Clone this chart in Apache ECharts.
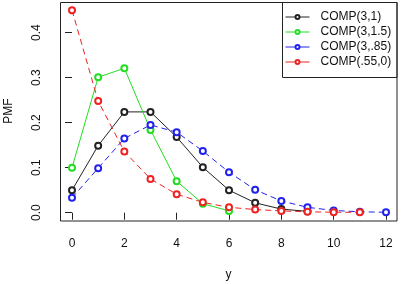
<!DOCTYPE html>
<html><head><meta charset="utf-8">
<script src="https://cdn.jsdelivr.net/npm/echarts@6/dist/echarts.min.js"></script>
<style>html,body{margin:0;padding:0;background:#fff}#c{width:401px;height:284px}</style>
</head><body><div id="c"></div>
<script>
var xTicks = [0, 2, 4, 6, 8, 10, 12];
var yTicks = [0.0, 0.1, 0.2, 0.3, 0.4];
var names = ['COMP(3,1)', 'COMP(3,1.5)', 'COMP(3,.85)', 'COMP(.55,0)'];
var comp3_1   = [0.050, 0.149, 0.224, 0.224, 0.168, 0.101, 0.050, 0.022, 0.008, 0.003];
var comp3_15  = [0.100, 0.301, 0.321, 0.184, 0.070, 0.020, 0.004];
var comp3_085 = [0.033, 0.099, 0.165, 0.195, 0.179, 0.137, 0.090, 0.051, 0.026, 0.012, 0.005, 0.002, 0.001];
var comp055_0 = [0.450, 0.248, 0.136, 0.075, 0.041, 0.023, 0.012, 0.007, 0.004, 0.002, 0.001, 0.001];
var colors = ['#222222', '#22dd22', '#2222ee', '#ee2222'];
var dashes = ['solid', 'solid', [6, 4], [6, 4]];
var allData = [comp3_1, comp3_15, comp3_085, comp055_0];

function toPairs(arr){ return arr.map(function(v,i){ return [i, v]; }); }

var chart = echarts.init(document.getElementById('c'), null, {renderer:'canvas'});
var series = allData.map(function(d, k){
  return {
    name: names[k], type: 'line', data: toPairs(d), clip: false,
    symbol: 'emptyCircle', symbolSize: 6,
    itemStyle: {color: colors[k], borderColor: colors[k], borderWidth: 1},
    lineStyle: {color: colors[k], width: 1, type: dashes[k]},
    emphasis: {disabled: true}, animation: false
  };
});
chart.setOption({
  animation: false,
  backgroundColor: '#fff',
  textStyle: {fontFamily: 'Liberation Sans, Arial, sans-serif'},
  grid: {left: 72, right: 15, top: 32.7, bottom: 71.3},
  xAxis: {
    type: 'value', min: 0, max: 12, interval: 2, offset: 8.3,
    axisLine: {show: false},
    axisTick: {show: true, length: 7, lineStyle: {color: '#222'}},
    axisLabel: {color: '#111', fontSize: 12, margin: 17, formatter: function(v){ return xTicks.indexOf(v) >= 0 ? String(v) : ''; }},
    splitLine: {show: false}
  },
  yAxis: {
    type: 'value', min: 0, max: 0.4, interval: 0.1, offset: 12,
    axisLine: {show: false},
    axisTick: {show: true, length: 7, lineStyle: {color: '#222'}},
    axisLabel: {color: '#111', fontSize: 12, margin: 17, rotate: 90,
      formatter: function(v){ return v.toFixed(1); }},
    splitLine: {show: false}
  },
  legend: {
    data: names, orient: 'vertical', left: 285, top: 11, padding: 0,
    itemWidth: 24, itemHeight: 5, itemGap: 3,
    itemStyle: {borderWidth: 1},
    lineStyle: {width: 1, type: 'solid'},
    textStyle: {fontSize: 12, color: '#111', lineHeight: 12, padding: [0, 0, 0, 6]},
    selectedMode: false
  },
  graphic: [
    {type: 'rect', shape: {x: 60.5, y: 2.5, width: 336.5, height: 218.5}, style: {fill: 'none', stroke: '#222', lineWidth: 1}, silent: true, z: 10},
    {type: 'rect', shape: {x: 282.5, y: 2.5, width: 114.5, height: 75}, style: {fill: 'none', stroke: '#222', lineWidth: 1}, silent: true, z: 10},
    {type: 'text', x: 228.5, y: 275, style: {text: 'y', fontSize: 12, fill: '#111', align: 'center', verticalAlign: 'middle', font: '12px Liberation Sans'}},
    {type: 'text', x: 9, y: 111, rotation: Math.PI/2, style: {text: 'PMF', fontSize: 12, fill: '#111', align: 'center', verticalAlign: 'middle', font: '12px Liberation Sans'}}
  ],
  series: series
});
</script></body></html>
